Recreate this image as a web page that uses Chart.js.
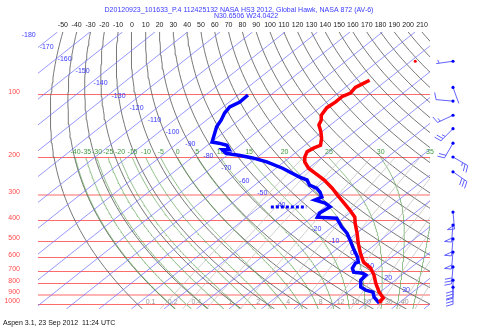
<!DOCTYPE html>
<html>
<head>
<meta charset="utf-8">
<script src="https://cdn.jsdelivr.net/npm/chart.js@4.4.0/dist/chart.umd.min.js"></script>
<style>
  html, body { margin: 0; padding: 0; background: #fff; }
  #wrap { width: 480px; height: 332px; }
</style>
</head>
<body>
<div id="wrap"><canvas id="skewt" width="480" height="332"></canvas></div>
<script>
// skew-T / log-p of a dropsonde, Aspen style
const P_TOP = 50;
const P_BOT = 1055;
const SKEW = 81.0;            // deg C of skew per decade of pressure
const X_MIN = -80.6;
const X_MAX = 40.0;
const FONT = 'Liberation Sans';

const pressureTicks = [100, 200, 300, 400, 500, 600, 700, 800, 900, 1000];
const isotherms = [-180, -170, -160, -150, -140, -130, -120, -110, -100, -90, -80, -70, -60, -50, -40, -30, -20, -10, 0, 10, 20, 30, 40];
const dryAdiabats = [-50, -40, -30, -20, -10, 0, 10, 20, 30, 40, 50, 60, 70, 80, 90, 100, 110, 120, 130, 140, 150, 160, 170, 180, 190, 200, 210];
const moistAdiabats = [-40, -35, -30, -25, -20, -15, -10, -5, 0, 5, 10, 15, 20, 25, 30, 35];
const mixingRatios = [0.1, 0.2, 0.4, 1, 2, 4, 8, 12, 16, 20, 30, 40];

// sounding (hPa, deg C)
const tempP = [85, 89, 92, 98, 102, 108, 115, 125, 132, 139, 150, 161, 174, 179, 187, 198, 209, 224, 241, 255, 279, 301, 318, 355, 384, 410, 458, 511, 570, 630, 673, 726, 794, 876, 936, 968, 989];
const tempT = [-65.3, -66.2, -66.9, -66.2, -67.4, -67.3, -67.8, -66.6, -64.7, -63.6, -60.3, -57.6, -55.2, -56.2, -56.8, -55.5, -53.6, -50.0, -44.7, -40.6, -35.0, -30.7, -27.5, -21.1, -16.8, -14.4, -9.9, -5.7, -1.2, 3.3, 7.8, 11.5, 15.2, 19.7, 23.3, 23.5, 24.6];
const dewP = [100, 108, 114, 122, 132, 142, 168, 170, 174, 183, 183, 190, 192, 194, 200, 209, 224, 247, 255, 270, 279, 291, 308, 318, 329, 343, 367, 384, 388, 428, 458, 494, 540, 596, 630, 637, 673, 703, 711, 726, 768, 829, 857, 876, 926, 989];
const dewT = [-97.0, -96.8, -98.0, -97.2, -95.5, -94.3, -89.8, -87.3, -84.0, -81.5, -83.6, -81.2, -79.0, -76.5, -71.2, -65.3, -58.0, -49.3, -45.9, -43.1, -39.8, -37.3, -34.7, -35.7, -31.4, -28.4, -29.2, -28.3, -22.0, -17.0, -13.0, -9.4, -5.3, -0.5, 1.7, 1.2, 2.2, 4.1, 7.3, 9.0, 9.4, 12.1, 14.8, 17.8, 20.1, 24.0];
const dewSuspP = [343, 343, 343, 343, 343];
const dewSuspT = [-46.6, -44.0, -41.0, -38.0, -35.7];
const flightP = [69];
const flightT = [-58.6];

// winds: hPa, direction (deg from), speed (kt)
const windP = [69, 92, 107, 125, 145, 170, 198, 233, 363, 419, 488, 564, 664, 768, 830];
const windDir = [262, 160, 275, 245, 225, 210, 120, 125, 175, 185, 185, 185, 185, 180, 180];
const windSpd = [5, 0, 10, 15, 25, 20, 25, 30, 50, 50, 50, 50, 30, 30, 30];

function skewX(t, p) { return t + SKEW * Math.log10(1000 / p); }
function pts(ps, ts) { return ps.map((p, i) => ({ x: skewX(ts[i], p), y: p })); }

function logSteps(p0, p1, n) {
  const out = [];
  for (let i = 0; i <= n; i++) out.push(p0 * Math.pow(p1 / p0, i / n));
  return out;
}

function dryLine(th) {
  return logSteps(P_BOT, P_TOP, 60).map(p => ({ x: skewX((th + 273.15) * Math.pow(p / 1000, 0.2857) - 273.15, p), y: p }));
}

function dTdp(T, p) {
  const es = 6.112 * Math.exp(17.67 * (T - 273.15) / (T - 29.65));
  const rs = 0.622 * es / (p - es);
  return (287.04 * T + 2.501e6 * rs) / (p * (1005.7 + 2.501e6 * 2.501e6 * rs * 0.622 / (287.04 * T * T)));
}

function moistLine(thw) {
  const out = [];
  let Tb = thw + 273.15, pb = 1000;
  const below = [];
  while (pb < P_BOT) {
    const dp = Math.min(5, P_BOT - pb);
    const k1 = dTdp(Tb, pb), k2 = dTdp(Tb + k1 * dp, pb + dp);
    Tb += 0.5 * (k1 + k2) * dp; pb += dp;
    below.push({ x: skewX(Tb - 273.15, pb), y: pb });
  }
  below.reverse().forEach(d => out.push(d));
  let T = thw + 273.15, p = 1000;
  out.push({ x: skewX(T - 273.15, p), y: p });
  while (p > 200) {
    const dp = -5;
    const k1 = dTdp(T, p), k2 = dTdp(T + k1 * dp, p + dp);
    T += 0.5 * (k1 + k2) * dp; p += dp;
    out.push({ x: skewX(T - 273.15, p), y: p });
  }
  return out;
}

function dewFromMix(w, p) {
  const e = w * p / (622 + w);
  const l = Math.log(e / 6.112);
  return 243.5 * l / (17.67 - l);
}

function mixLine(w) {
  return logSteps(P_BOT, 200, 30).map(p => ({ x: skewX(dewFromMix(w, p), p), y: p }));
}

const datasets = [];
datasets.push({ data: pts(tempP, tempT), borderColor: '#ff0000', borderWidth: 3.5, order: 0 });
datasets.push({ data: pts(dewP, dewT), borderColor: '#0000ff', borderWidth: 3.5, order: 0 });
datasets.push({ data: pts(dewSuspP, dewSuspT), borderColor: '#0000ff', borderWidth: 3, borderDash: [3, 2], order: 0 });
datasets.push({ data: pts(flightP, flightT), showLine: false, pointRadius: 1.5, pointBackgroundColor: '#ff0000', pointBorderWidth: 0, order: 0 });
isotherms.forEach(t => datasets.push({ data: [{ x: skewX(t, P_BOT), y: P_BOT }, { x: skewX(t, P_TOP), y: P_TOP }], borderColor: 'rgba(110,110,255,0.9)', borderWidth: 0.8, order: 1 }));
mixingRatios.forEach(w => datasets.push({ data: mixLine(w), borderColor: '#c4c4c4', borderWidth: 0.8, order: 2 }));
moistAdiabats.forEach(t => datasets.push({ data: moistLine(t), borderColor: 'rgba(90,160,80,0.85)', borderWidth: 0.8, order: 3 }));
dryAdiabats.forEach(t => datasets.push({ data: dryLine(t), borderColor: '#555', borderWidth: 0.8, order: 4 }));
datasets.forEach(d => { d.showLine = d.showLine !== false; if (d.pointRadius === undefined) d.pointRadius = 0; d.tension = 0; });

function drawBarb(ctx, x, y, dir, spd) {
  const L = 17, rad = dir * Math.PI / 180;
  const ux = Math.sin(rad), uy = -Math.cos(rad);
  const nx = -uy, ny = ux;
  ctx.beginPath();
  ctx.moveTo(x, y);
  ctx.lineTo(x + ux * L, y + uy * L);
  let s = Math.round(spd / 5) * 5, pos = 0;
  const at = d => [x + ux * (L - d), y + uy * (L - d)];
  const flags = [];
  while (s >= 50) { flags.push(pos); pos += 4; s -= 50; }
  while (s >= 10) {
    const [bx, by] = at(pos);
    ctx.moveTo(bx, by); ctx.lineTo(bx + nx * 7 + ux * 2, by + ny * 7 + uy * 2);
    pos += 3; s -= 10;
  }
  if (s >= 5) {
    if (pos === 0) pos = 3;
    const [bx, by] = at(pos);
    ctx.moveTo(bx, by); ctx.lineTo(bx + nx * 3.5 + ux * 1, by + ny * 3.5 + uy * 1);
  }
  ctx.stroke();
  flags.forEach(f => {
    const [ax, ay] = at(f), [cx, cy] = at(f + 4);
    ctx.beginPath();
    ctx.moveTo(ax, ay); ctx.lineTo(ax + nx * 7, ay + ny * 7); ctx.lineTo(cx, cy);
    ctx.stroke();
  });
  ctx.beginPath();
  ctx.arc(x, y, 1.6, 0, Math.PI * 2);
  ctx.fill();
}

let labelsDone = false;
const skewLabels = {
  id: 'skewLabels',
  beforeDatasetsDraw() { labelsDone = false; },
  beforeDatasetDraw(chart, args) {
    if (labelsDone || args.meta.order !== 0) return;
    labelsDone = true;
    const { ctx, chartArea: a, scales: { x, y } } = chart;
    ctx.save();
    ctx.font = `7px ${FONT}`;
    ctx.textBaseline = 'middle';
    ctx.textAlign = 'center';
    // isotherm labels along a diagonal
    ctx.fillStyle = '#3a3aff';
    isotherms.forEach(t => {
      if (t > 30 || t === -30) return;
      const ly = 35 + (t + 180) * 1.214;
      const p = y.getValueForPixel(ly);
      const off = -25 + (t + 180) * 0.075;
      ctx.fillText(String(t), x.getPixelForValue(skewX(t, p)) + off, ly);
    });
    // moist adiabat labels on 200 hPa
    ctx.fillStyle = '#3f9a3f';
    moistAdiabats.forEach(t => {
      const line = moistLine(t);
      const top = line[line.length - 1];
      const px = x.getPixelForValue(top.x);
      if (px < a.right) {
        ctx.fillText(String(t), px, y.getPixelForValue(200) - 6);
      } else {
        const hit = line.slice().reverse().find(d => x.getPixelForValue(d.x) <= a.right);
        if (hit) ctx.fillText(String(t), a.right, y.getPixelForValue(hit.y));
      }
    });
    // mixing ratio labels near bottom
    ctx.fillStyle = '#9a9a9a';
    mixingRatios.forEach(w => {
      ctx.fillText(String(w), x.getPixelForValue(skewX(dewFromMix(w, 1040), 1040)) - 11, a.bottom - 7);
    });
    ctx.restore();
  },
  afterDraw(chart) {
    const { ctx, chartArea: a, scales: { x, y } } = chart;
    ctx.save();
    ctx.font = `7px ${FONT}`;
    ctx.textBaseline = 'middle';
    ctx.textAlign = 'center';
    ctx.fillStyle = '#222';
    dryAdiabats.forEach(th => {
      const t = (th + 273.15) * Math.pow(P_TOP / 1000, 0.2857) - 273.15;
      ctx.fillText(String(th), x.getPixelForValue(skewX(t, P_TOP)), a.top - 7);
    });
    ctx.fillStyle = '#3a3aff';
    ctx.fillText('D20120923_101633_P.4 112425132 NASA HS3 2012, Global Hawk, NASA 872 (AV-6)', 239, 10);
    ctx.fillText('N30.6506 W24.0422', 246, 16);
    ctx.fillStyle = '#111';
    ctx.textAlign = 'left';
    ctx.fillText('Aspen 3.1, 23 Sep 2012  11:24 UTC', 3, 323);
    // wind barbs
    ctx.strokeStyle = '#5050ff';
    ctx.fillStyle = '#0000ff';
    ctx.lineWidth = 0.9;
    windP.forEach((p, i) => drawBarb(ctx, 453, y.getPixelForValue(p), windDir[i], windSpd[i]));
    ctx.restore();
  }
};

new Chart(document.getElementById('skewt'), {
  type: 'scatter',
  data: { datasets },
  options: {
    responsive: false,
    animation: false,
    devicePixelRatio: 1,
    layout: { padding: { left: 0, right: 50, top: 32, bottom: 23 } },
    plugins: { legend: { display: false }, tooltip: { enabled: false } },
    scales: {
      x: { type: 'linear', min: X_MIN, max: X_MAX, display: false },
      y: {
        type: 'logarithmic', reverse: true, min: P_TOP, max: P_BOT,
        afterBuildTicks: s => { s.ticks = pressureTicks.map(v => ({ value: v })); },
        afterFit: s => { s.width = 38; },
        border: { display: false },
        grid: {
          drawTicks: false,
          color: c => (c.tick && (c.tick.value === 900 || c.tick.value === 300)) ? '#ffb4b4' : '#ff6a6a',
          lineWidth: c => (c.tick && (c.tick.value === 900 || c.tick.value === 300)) ? 2 : 1
        },
        ticks: {
          autoSkip: false, padding: 18, labelOffset: -3,
          color: '#ff4a4a', font: { size: 7, family: FONT },
          callback: v => String(v)
        }
      }
    }
  },
  plugins: [skewLabels]
});
</script>
</body>
</html>
